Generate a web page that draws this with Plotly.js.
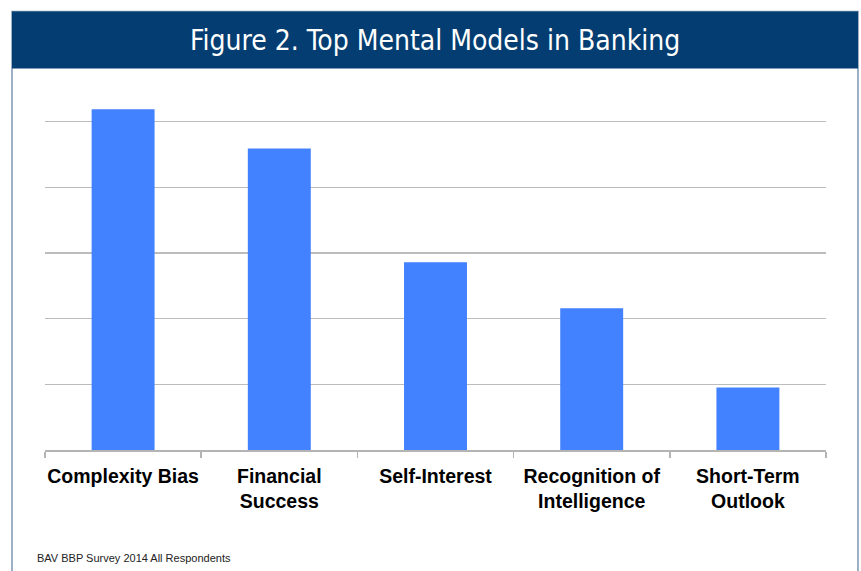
<!DOCTYPE html>
<html>
<head>
<meta charset="utf-8">
<script src="https://cdn.plot.ly/plotly-3.0.1.min.js"></script>
<style>
html,body{margin:0;padding:0;background:#fff;}
#chart{width:861px;height:571px;}
</style>
</head>
<body>
<div id="chart"></div>
<script>
var categories = ["Complexity Bias", "Financial<br>Success", "Self-Interest", "Recognition of<br>Intelligence", "Short-Term<br>Outlook"];
var values = [5.19, 4.59, 2.86, 2.16, 0.95];
var titleText = "Figure 2. Top Mental Models in Banking";
var footnote = "BAV BBP Survey 2014 All Respondents";

var trace = {
  type: "bar",
  x: categories,
  y: values,
  marker: {color: "#4281ff"},
  hoverinfo: "none"
};

var W = 861, H = 571;
var layout = {
  width: W, height: H,
  margin: {l: 45, r: 35, t: 55.6, b: 120.7, pad: 0},
  paper_bgcolor: "#ffffff",
  plot_bgcolor: "#ffffff",
  showlegend: false,
  bargap: 0.597,
  xaxis: {
    type: "category",
    showgrid: false,
    showline: true,
    linecolor: "#b4b4b4",
    linewidth: 1.5,
    ticks: "outside",
    tickson: "boundaries",
    ticklen: 6,
    tickcolor: "#b4b4b4",
    tickwidth: 1.5,
    tickangle: 0,
    ticklabelstandoff: 8,
    tickfont: {family: "Liberation Sans, Arial, sans-serif", size: 19.5, color: "#000000", weight: "bold"},
    zeroline: false,
    fixedrange: true
  },
  yaxis: {
    range: [0, 6],
    dtick: 1,
    tick0: 0,
    showticklabels: false,
    showgrid: true,
    gridcolor: "#bcbcbc",
    gridwidth: 1.5,
    zeroline: false,
    showline: false,
    ticks: "",
    fixedrange: true
  },
  title: {text: ""},
  shapes: [
    {type: "rect", xref: "paper", yref: "paper",
     x0: (12 - 45) / 781, x1: (858 - 45) / 781,
     y0: -0.5, y1: (H - 120.7 - 11) / (H - 120.7 - 55.6),
     line: {color: "#7f97b3", width: 1.5}, fillcolor: "rgba(0,0,0,0)", layer: "below"},
    {type: "rect", xref: "paper", yref: "paper",
     x0: (12 - 45) / 781, x1: (858 - 45) / 781,
     y0: (H - 120.7 - 68) / (H - 120.7 - 55.6), y1: (H - 120.7 - 11) / (H - 120.7 - 55.6),
     line: {width: 0}, fillcolor: "#033d71", layer: "above"}
  ],
  annotations: [
    {text: titleText, xref: "paper", yref: "paper",
     x: (435 - 45) / 781, y: (H - 120.7 - 40) / (H - 120.7 - 55.6),
     xanchor: "center", yanchor: "middle", showarrow: false,
     font: {family: "Liberation Sans Narrow, DejaVu Sans Condensed, sans-serif", size: 28, color: "#ffffff"}},
    {text: footnote, xref: "paper", yref: "paper",
     x: (35 - 45) / 781, y: (H - 120.7 - 558) / (H - 120.7 - 55.6),
     xanchor: "left", yanchor: "middle", showarrow: false,
     font: {family: "Liberation Sans, Arial, sans-serif", size: 11, color: "#222222"}}
  ]
};

Plotly.newPlot("chart", [trace], layout, {staticPlot: true, displayModeBar: false});
</script>
</body>
</html>
